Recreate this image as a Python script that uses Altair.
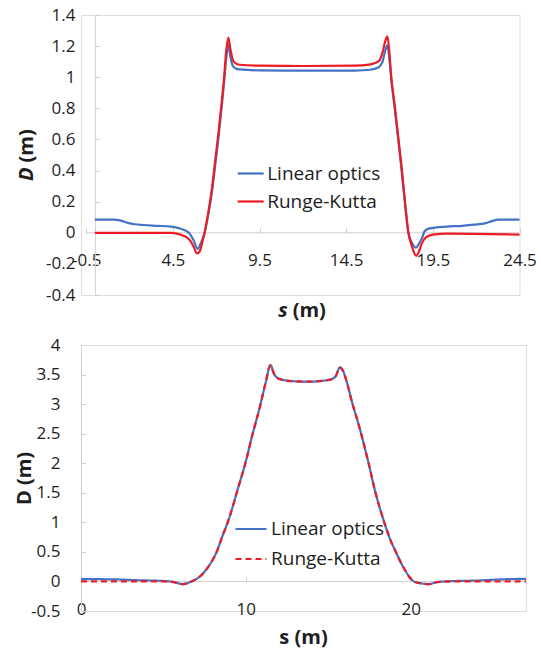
import altair as alt
import pandas as pd

FONT = "Open Sans"
BLUE = "#4472C4"
RED = "#ED1C24"
AXIS_GREY = "#D0D0D0"
INK = "#1E1E1E"
NAMES = ["Linear optics", "Runge-Kutta"]

# ---------------- upper panel: D(s) along the cell ----------------
top_lin_s = [0.0, 1.1, 1.5, 1.9, 2.3, 2.8, 3.6, 4.4, 4.95, 5.3, 5.5, 5.7, 5.94, 6.1, 6.33,
             6.55, 6.75, 6.95, 7.15, 7.3, 7.45, 7.58, 7.7, 7.82, 7.95, 8.1, 8.35, 9.5, 12.0,
             15.0, 15.9, 16.35, 16.6, 16.75, 16.87, 17.0, 17.1, 17.3, 17.5, 17.7, 17.9, 18.09,
             18.3, 18.53, 18.7, 18.89, 19.0, 19.29, 20.3, 21.2, 21.9, 22.5, 22.9, 23.3, 24.5]
top_lin_d = [0.085, 0.085, 0.078, 0.064, 0.055, 0.05, 0.045, 0.04, 0.026, 0.01, -0.01, -0.05,
             -0.103, -0.07, 0.0, 0.12, 0.26, 0.44, 0.63, 0.79, 0.96, 1.12, 1.208, 1.13, 1.075,
             1.058, 1.05, 1.044, 1.042, 1.043, 1.048, 1.062, 1.1, 1.17, 1.205, 1.11, 0.99, 0.8,
             0.6, 0.4, 0.18, 0.0, -0.065, -0.096, -0.07, -0.03, 0.005, 0.028, 0.04, 0.045,
             0.052, 0.06, 0.075, 0.084, 0.085]

top_rk_s = [0.0, 4.4, 4.95, 5.3, 5.5, 5.7, 5.9, 6.05, 6.2, 6.33, 6.45, 6.75, 6.95, 7.15, 7.3,
            7.45, 7.58, 7.7, 7.82, 7.95, 8.1, 8.35, 9.5, 12.0, 15.0, 15.9, 16.4, 16.6, 16.75,
            16.88, 17.0, 17.1, 17.3, 17.5, 17.7, 17.9, 18.09, 18.3, 18.54, 18.7, 18.85, 19.1,
            19.5, 20.3, 24.5]
top_rk_d = [0.0, 0.0, -0.012, -0.03, -0.05, -0.09, -0.133, -0.12, -0.06, 0.0, 0.07, 0.28,
            0.47, 0.66, 0.82, 0.99, 1.17, 1.255, 1.18, 1.115, 1.09, 1.08, 1.074, 1.072, 1.074,
            1.083, 1.105, 1.16, 1.23, 1.262, 1.15, 1.0, 0.82, 0.62, 0.42, 0.19, 0.0, -0.09,
            -0.148, -0.12, -0.073, -0.03, -0.012, -0.006, -0.012]

top_xticks = [-0.5, 4.5, 9.5, 14.5, 19.5, 24.5]
top_yticks = [-0.4, -0.2, 0, 0.2, 0.4, 0.6, 0.8, 1, 1.2, 1.4]
top_xline = [-0.5, 24.5]        # extent of the horizontal axis line

# ---------------- lower panel: D(s) along the cell ----------------
bot_lin_s = [0.0, 2.0, 3.5, 5.0, 5.6, 6.18, 6.7, 7.2, 7.7, 8.2, 8.6, 9.0, 9.5, 10.0, 10.4,
             10.85, 11.2, 11.5, 11.7, 12.0, 12.75, 13.8, 15.05, 15.45, 15.7, 15.9, 16.15, 16.4,
             16.9, 17.45, 17.87, 18.4, 18.75, 19.1, 19.6, 20.2, 20.7, 21.1, 21.6, 22.5, 24.0,
             25.5, 27.0]
bot_lin_d = [0.04, 0.035, 0.02, 0.008, -0.008, -0.045, 0.0, 0.08, 0.24, 0.48, 0.78, 1.08,
             1.55, 2.03, 2.48, 2.95, 3.36, 3.66, 3.52, 3.43, 3.39, 3.38, 3.41, 3.47, 3.62,
             3.56, 3.35, 3.08, 2.6, 2.0, 1.5, 1.0, 0.72, 0.5, 0.22, 0.0, -0.035, -0.045,
             -0.01, 0.005, 0.015, 0.035, 0.045]

bot_rk_s = [0.0, 2.0, 3.5, 5.0, 5.6, 6.18, 6.7, 7.2, 7.7, 8.2, 8.6, 9.0, 9.5, 10.0, 10.4,
            10.85, 11.2, 11.5, 11.7, 12.0, 12.75, 13.8, 15.05, 15.45, 15.7, 15.9, 16.15, 16.4,
            16.9, 17.45, 17.87, 18.4, 18.75, 19.1, 19.6, 20.2, 20.7, 21.1, 21.6, 22.5, 24.0,
            25.5, 27.0]
bot_rk_d = [0.0, 0.0, 0.0, 0.0, -0.01, -0.045, 0.0, 0.08, 0.24, 0.48, 0.78, 1.08, 1.55,
            2.03, 2.48, 2.95, 3.36, 3.66, 3.52, 3.43, 3.39, 3.38, 3.41, 3.47, 3.62, 3.56,
            3.35, 3.08, 2.6, 2.0, 1.5, 1.0, 0.72, 0.5, 0.22, 0.0, -0.035, -0.045, -0.01, 0.0,
            0.0, 0.0, 0.0]

bot_xticks = [0, 10, 20]
bot_yticks = [-0.5, 0, 0.5, 1, 1.5, 2, 2.5, 3, 3.5, 4]
bot_xline = [0, 27]


def table(s_lin, d_lin, s_rk, d_rk):
    a = pd.DataFrame({"s": s_lin, "D": d_lin, "model": NAMES[0]})
    b = pd.DataFrame({"s": s_rk, "D": d_rk, "model": NAMES[1]})
    return pd.concat([a, b], ignore_index=True)


def title_style(size=20):
    return dict(titleFont=FONT, titleFontSize=size, titleFontWeight="bold", titleColor=INK,
                titleBaseline="middle")


def label_axis(orient, values, offset, pad, **kw):
    # tick labels (and title) only; no line, no ticks
    return alt.Axis(orient=orient, values=values, offset=offset, domain=False, ticks=False,
                    tickSize=0, grid=False, labelPadding=pad, labelFont=FONT,
                    labelFontSize=17, labelColor=INK, labelBaseline="middle",
                    labelFlush=False, labelOverlap=False, labelExpr="'' + datum.value", **kw)


def tick_axis(orient, values, offset, line=True, **kw):
    # axis through zero with inward tick marks
    return alt.Axis(orient=orient, values=values, offset=offset, domain=line,
                    domainColor=AXIS_GREY, domainWidth=1, ticks=True, tickColor=AXIS_GREY,
                    tickSize=5, tickWidth=1, labels=False, grid=False, **kw)


def panel(data, xline, width, height, xdom, ydom, axes, legend, dashed):
    xs = alt.Scale(domain=xdom, nice=False, zero=False)
    ys = alt.Scale(domain=ydom, nice=False, zero=False)

    # horizontal axis line at D = 0
    zero_line = alt.Chart(pd.DataFrame({"a": [xline[0]], "b": [xline[1]], "D": [0]})).mark_rule(
        color=AXIS_GREY, strokeWidth=1).encode(
        x=alt.X("a:Q", scale=xs, axis=None),
        x2="b:Q",
        y=alt.Y("D:Q", scale=ys, axis=None),
    )

    enc = dict(
        x=alt.X("s:Q", scale=xs, axis=axes["x_lab"]),
        y=alt.Y("D:Q", scale=ys, axis=axes["y_lab"]),
        color=alt.Color("model:N", scale=alt.Scale(domain=NAMES, range=[BLUE, RED]),
                        legend=legend),
    )
    if dashed:
        enc["strokeDash"] = alt.StrokeDash(
            "model:N", scale=alt.Scale(domain=NAMES, range=[[1, 0], [6, 4]]), legend=legend)
    curves = alt.Chart(data).mark_line(strokeWidth=2.2, interpolate="monotone").encode(**enc)

    frame = alt.Chart(data).mark_line(strokeOpacity=0).encode(
        x=alt.X("s:Q", scale=xs, axis=axes["x_tick"]),
        y=alt.Y("D:Q", scale=ys, axis=axes["y_tick"]),
        detail="model:N",
    )
    return (alt.layer(zero_line, curves, frame)
            .resolve_axis(x="independent", y="independent")
            .properties(width=width, height=height))


def legend_box(x, y, length, gap, offset):
    return alt.Legend(orient="none", legendX=x, legendY=y, title=None, symbolType="stroke",
                      symbolSize=length * length, symbolStrokeWidth=2.2, labelFont=FONT,
                      labelFontSize=19, labelColor=INK, rowPadding=gap, labelOffset=offset,
                      padding=0)


# upper panel geometry: the scale starts a little before the first tick
T_XDOM = [-0.8, 24.5]
TW, TH = 438.5, 280
t_x0 = TW * 0.8 / 25.3          # pixel of s = 0
t_y0 = TH * 1.4 / 1.8           # pixel of D = 0 from top
t_tx = 5.2                      # pixel of s = -0.5
top_axes = dict(
    x_lab=label_axis("bottom", top_xticks, -(TH - t_y0), 27.5, title="s",
                     titleFontStyle="italic", titleX=t_tx + 201, titleY=78,
                     titleAlign="right", titleAngle=0, **title_style()),
    y_lab=label_axis("left", top_yticks, -t_x0, 20, title="D", titleFontStyle="italic",
                     titleX=-68, titleY=152, titleAlign="right", titleAngle=270,
                     **title_style()),
    x_tick=tick_axis("top", top_xticks, -t_y0, line=False, title="(m)",
                     titleX=t_tx + 206, titleY=78, titleAlign="left", titleAngle=0,
                     **title_style()),
    y_tick=tick_axis("right", top_yticks, -(TW - t_x0), title="(m)", titleX=-68,
                     titleY=147, titleAlign="left", titleAngle=270, **title_style()),
)
top = panel(table(top_lin_s, top_lin_d, top_rk_s, top_rk_d), top_xline, TW, TH, T_XDOM,
            [-0.4, 1.4], top_axes, legend_box(t_tx + 150, 144, 26, 3, 2), dashed=False)

# lower panel geometry
BW, BH = 445, 266
b_y0 = BH * 4.0 / 4.5
bot_axes = dict(
    x_lab=label_axis("bottom", bot_xticks, -(BH - b_y0), 28.5, title="s (m)", titleX=222,
                     titleY=56, titleAlign="center", titleAngle=0, **title_style()),
    y_lab=label_axis("left", bot_yticks, 0, 21, title="D (m)", titleX=-57, titleY=133,
                     titleAlign="center", titleAngle=270, **title_style()),
    x_tick=tick_axis("top", bot_xticks, -b_y0, line=False, title=None),
    y_tick=tick_axis("right", bot_yticks, -BW, title=None),
)
bottom = panel(table(bot_lin_s, bot_lin_d, bot_rk_s, bot_rk_d), bot_xline, BW, BH, [0, 27],
               [-0.5, 4], bot_axes, legend_box(153, 167, 31, 3, 3), dashed=True)

chart = (alt.vconcat(top, bottom, spacing=13)
         .resolve_scale(color="independent", strokeDash="independent")
         .resolve_legend(color="independent", strokeDash="independent")
         .properties(padding={"left": 13, "top": 5, "right": 2, "bottom": 2})
         .configure_view(stroke=None)
         .configure(font=FONT))

chart.save("out.html", embed_options={"renderer": "svg", "actions": False})
